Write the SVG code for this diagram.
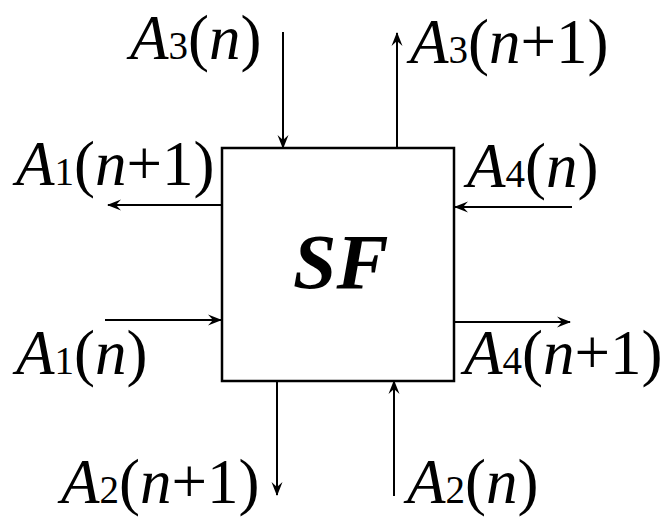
<svg xmlns="http://www.w3.org/2000/svg" width="665" height="519" viewBox="0 0 665 519">
<defs>
<style>
text{font-family:'Liberation Serif','Times New Roman',serif;fill:#000}
.lbl{font-size:63px}
.i{font-style:italic}
.sub{font-size:39px}
.edge{stroke:#000;stroke-width:2;fill:none;marker-end:url(#ah)}
.sf{font-size:78px;font-style:italic;font-weight:bold}
</style>
<marker id="ah" viewBox="0 0 14 12" refX="13" refY="6" markerWidth="14" markerHeight="12" markerUnits="userSpaceOnUse" orient="auto">
<path d="M0,0.5 L14,6 L0,11.5 L5,6 Z" fill="#000"/>
</marker>
</defs>
<rect width="665" height="519" fill="#fff"/>
<g id="SF">
<rect x="222" y="148" width="232" height="233" fill="#fff" stroke="#000" stroke-width="2.5"/>
<text class="sf" x="293" y="288">SF</text>
</g>
<g id="connectors">
<line class="edge" x1="283" y1="32" x2="283" y2="148"/>
<line class="edge" x1="397" y1="148" x2="397" y2="33"/>
<line class="edge" x1="221" y1="205" x2="108" y2="205"/>
<line class="edge" x1="105" y1="320" x2="221" y2="320"/>
<line class="edge" x1="572" y1="207" x2="455" y2="207"/>
<line class="edge" x1="455" y1="322" x2="570" y2="322"/>
<line class="edge" x1="277" y1="381" x2="277" y2="495"/>
<line class="edge" x1="394" y1="496" x2="394" y2="381"/>
</g>
<g id="label-A3n"><text class="lbl" x="130" y="59"><tspan class="i">A</tspan><tspan class="sub">3</tspan>(<tspan class="i">n</tspan>)</text></g>
<g id="label-A3n1"><text class="lbl" x="410" y="63"><tspan class="i">A</tspan><tspan class="sub">3</tspan>(<tspan class="i">n</tspan>+1)</text></g>
<g id="label-A1n1"><text class="lbl" x="16" y="185"><tspan class="i">A</tspan><tspan class="sub">1</tspan>(<tspan class="i">n</tspan>+1)</text></g>
<g id="label-A1n"><text class="lbl" x="16" y="374"><tspan class="i">A</tspan><tspan class="sub">1</tspan>(<tspan class="i">n</tspan>)</text></g>
<g id="label-A4n"><text class="lbl" x="467" y="187"><tspan class="i">A</tspan><tspan class="sub">4</tspan>(<tspan class="i">n</tspan>)</text></g>
<g id="label-A4n1"><text class="lbl" x="464" y="374"><tspan class="i">A</tspan><tspan class="sub">4</tspan>(<tspan class="i">n</tspan>+1)</text></g>
<g id="label-A2n1"><text class="lbl" x="61" y="503"><tspan class="i">A</tspan><tspan class="sub">2</tspan>(<tspan class="i">n</tspan>+1)</text></g>
<g id="label-A2n"><text class="lbl" x="407" y="503"><tspan class="i">A</tspan><tspan class="sub">2</tspan>(<tspan class="i">n</tspan>)</text></g>
</svg>
